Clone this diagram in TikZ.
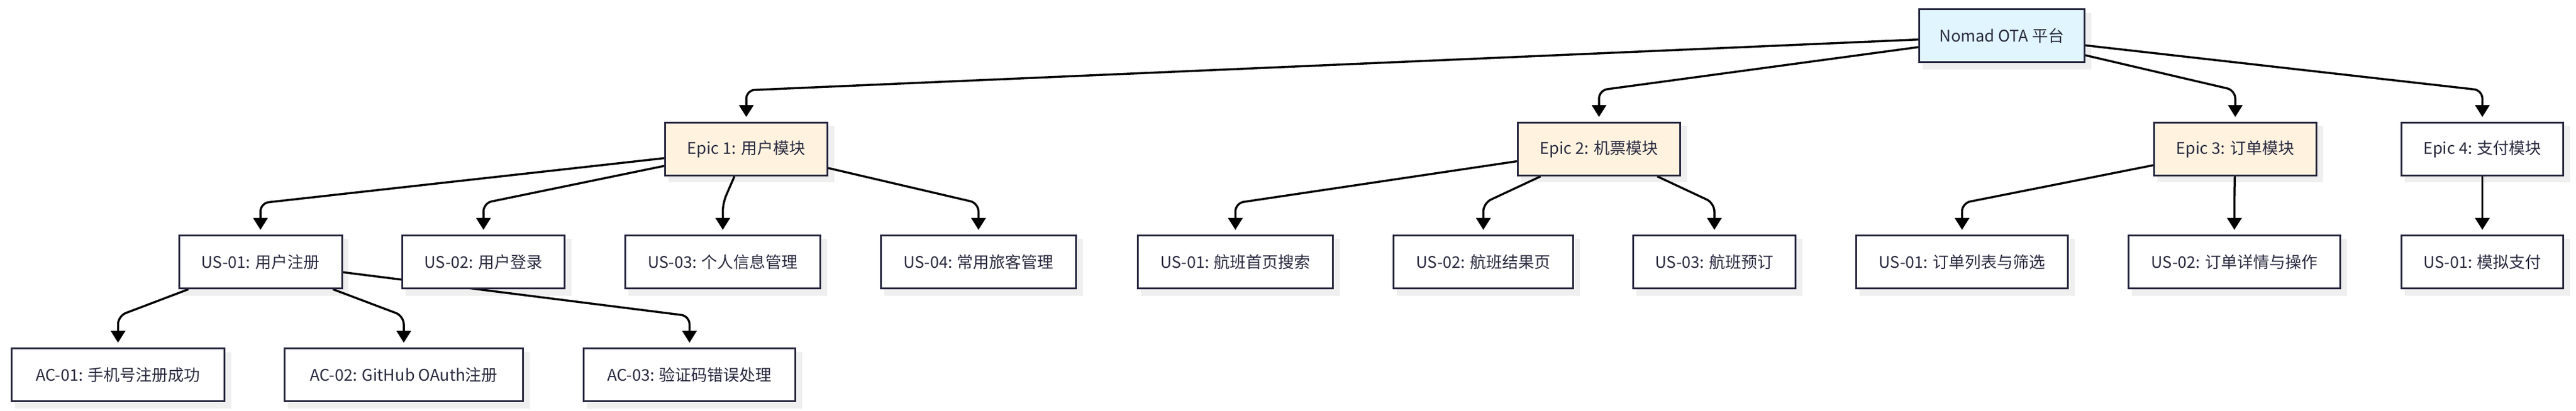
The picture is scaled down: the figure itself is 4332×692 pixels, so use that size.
\documentclass[tikz,border=0pt]{standalone}
\usepackage{fontspec}
\setmainfont{Noto Sans CJK SC}
\usetikzlibrary{arrows.meta,calc}
\pgfdeclarelayer{bglayer}
\pgfdeclarelayer{shadowlayer}
\pgfdeclarelayer{edgelayer}
\pgfsetlayers{bglayer,shadowlayer,edgelayer,main}
\definecolor{bordercol}{HTML}{27273F}
\definecolor{textcol}{HTML}{2A2A40}
\definecolor{rootfill}{HTML}{E1F5FE}
\definecolor{epicfill}{HTML}{FFF3E0}
\definecolor{shadowcol}{HTML}{EFEFEF}
\begin{document}
\begin{tikzpicture}[x=1pt,y=-1pt,
  box/.style={draw=bordercol, line width=3pt, fill=white, minimum height=89pt, inner sep=0pt, text=textcol, font=\fontsize{27}{32}\selectfont},
  rootbox/.style={box, fill=rootfill},
  epicbox/.style={box, fill=epicfill},
  edge/.style={line width=3.5pt, black, rounded corners=14pt, -{Triangle[length=20pt,width=24pt]}, shorten >=8pt},
]
\begin{pgfonlayer}{bglayer}
\fill[white] (0,0) rectangle (4332,692);
\end{pgfonlayer}
\useasboundingbox (0,0) rectangle (4332,692);

\node[rootbox, minimum width=278pt] (root) at (3366.5,60.5) {Nomad OTA 平台};
\node[epicbox, minimum width=273pt] (e1) at (1255,251) {Epic 1: 用户模块};
\node[epicbox, minimum width=273pt] (e2) at (2689,251) {Epic 2: 机票模块};
\node[epicbox, minimum width=273pt] (e3) at (3759,251) {Epic 3: 订单模块};
\node[box, minimum width=272pt] (e4) at (4174.5,251) {Epic 4: 支付模块};
\node[box, minimum width=274pt] (u11) at (438,441) {US-01: 用户注册};
\node[box, minimum width=273pt] (u12) at (813,441) {US-02: 用户登录};
\node[box, minimum width=328pt] (u13) at (1215.5,441) {US-03: 个人信息管理};
\node[box, minimum width=328pt] (u14) at (1645.5,441) {US-04: 常用旅客管理};
\node[box, minimum width=328pt] (u21) at (2077.5,441) {US-01: 航班首页搜索};
\node[box, minimum width=302pt] (u22) at (2494.5,441) {US-02: 航班结果页};
\node[box, minimum width=273pt] (u23) at (2883,441) {US-03: 航班预订};
\node[box, minimum width=356pt] (u31) at (3299.5,441) {US-01: 订单列表与筛选};
\node[box, minimum width=356pt] (u32) at (3757.5,441) {US-02: 订单详情与操作};
\node[box, minimum width=272pt] (u41) at (4174.5,441) {US-01: 模拟支付};
\node[box, minimum width=358pt] (a1) at (198.5,631) {AC-01: 手机号注册成功};
\node[box, minimum width=401pt] (a2) at (679,631) {AC-02: GitHub OAuth注册};
\node[box, minimum width=356pt] (a3) at (1159.5,631) {AC-03: 验证码错误处理};

\begin{pgfonlayer}{shadowlayer}
\foreach \n in {root,e1,e2,e3,e4,u11,u12,u13,u14,u21,u22,u23,u31,u32,u41,a1,a2,a3}
  \fill[shadowcol] ($(\n.south west)+(6.5,10.5)$) rectangle ($(\n.north east)+(9.5,7.5)$);
\end{pgfonlayer}

\begin{pgfonlayer}{edgelayer}
\foreach \p/\c in {root/e1,root/e2,root/e3,root/e4,
                   e1/u11,e1/u12,e1/u13,e1/u14,
                   e2/u21,e2/u22,e2/u23,
                   e3/u31,e3/u32,e4/u41,
                   u11/a1,u11/a2,u11/a3}
  \draw[edge] (\p) -- ($(\c.north)+(0,-53)$) -- (\c.north);
\end{pgfonlayer}
\end{tikzpicture}
\end{document}
